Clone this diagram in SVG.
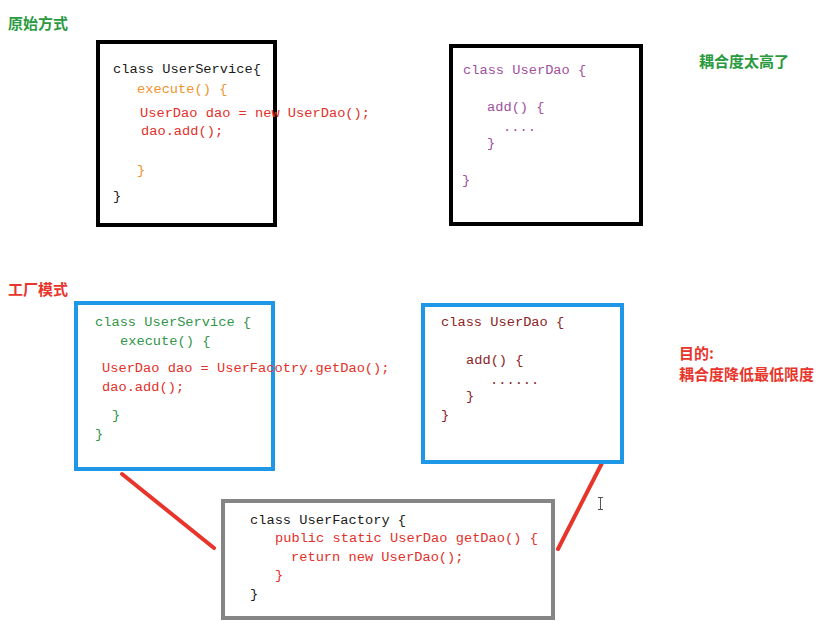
<svg xmlns="http://www.w3.org/2000/svg" width="828" height="640" viewBox="0 0 828 640">
<style>
.code{font-family:"Liberation Mono","DejaVu Sans Mono",monospace;font-size:13.7px;}
.cn{font-family:"Noto Sans CJK SC",sans-serif;font-size:15px;font-weight:bold;}
.blk{fill:#1a1a1a}.org{fill:#f0932e}.red{fill:#e3302a}.pur{fill:#a050a0}.grn{fill:#32954a}.drd{fill:#8c2424}
.hg{fill:#2a9a40}.hr{fill:#e8352b}
.boxk{fill:#fff;stroke:#000;stroke-width:4}
.boxb{fill:#fff;stroke:#1e98e6;stroke-width:4}
.boxg{fill:#fff;stroke:#858585;stroke-width:4}
.link{stroke:#e8352b;stroke-width:4;stroke-linecap:round}
</style>
<rect width="828" height="640" fill="#fff"/>
<text class="cn hg" x="8" y="29">原始方式</text>
<text class="cn hr" x="8" y="295">工厂模式</text>
<g id="old-userservice">
<rect class="boxk" x="98" y="42" width="177" height="183"/>
<text class="code blk" x="113" y="73">class UserService{</text>
<text class="code org" x="137" y="93">execute() {</text>
<text class="code red" x="140" y="117">UserDao dao = new UserDao();</text>
<text class="code red" x="141" y="135">dao.add();</text>
<text class="code org" x="137" y="174">}</text>
<text class="code blk" x="113" y="200">}</text>
</g>
<g id="old-userdao">
<rect class="boxk" x="451" y="46" width="190" height="178"/>
<text class="code pur" x="463" y="74">class UserDao {</text>
<text class="code pur" x="487" y="111">add() {</text>
<text class="code pur" x="503" y="131">....</text>
<text class="code pur" x="487" y="147">}</text>
<text class="code pur" x="462" y="184">}</text>
</g>
<text class="cn hg" x="699" y="67">耦合度太高了</text>
<g id="connectors">
<line class="link" x1="122" y1="474" x2="214" y2="548"/>
<line class="link" x1="602" y1="463" x2="558" y2="549"/>
</g>
<g id="new-userservice">
<rect class="boxb" x="76" y="303" width="197" height="166"/>
<text class="code grn" x="95" y="326">class UserService {</text>
<text class="code grn" x="120" y="345">execute() {</text>
<text class="code red" x="102" y="372">UserDao dao = UserFacotry.getDao();</text>
<text class="code red" x="102" y="391">dao.add();</text>
<text class="code grn" x="112" y="419">}</text>
<text class="code grn" x="95" y="438">}</text>
</g>
<g id="new-userdao">
<rect class="boxb" x="423" y="305" width="199" height="157"/>
<text class="code drd" x="441" y="326">class UserDao {</text>
<text class="code drd" x="466" y="364">add() {</text>
<text class="code drd" x="490" y="384">......</text>
<text class="code drd" x="466" y="400">}</text>
<text class="code drd" x="441" y="419">}</text>
</g>
<text class="cn hr" x="679" y="359">目的:</text>
<text class="cn hr" x="679" y="380">耦合度降低最低限度</text>
<g id="userfactory">
<rect class="boxg" x="223" y="501" width="330" height="117"/>
<text class="code blk" x="250" y="524">class UserFactory {</text>
<text class="code red" x="275" y="542">public static UserDao getDao() {</text>
<text class="code red" x="291" y="561">return new UserDao();</text>
<text class="code red" x="275" y="579">}</text>
<text class="code blk" x="250" y="598">}</text>
</g>
<g id="cursor" stroke="#555" stroke-width="1" fill="none">
<path d="M598 497.5h5M598 509.5h5M600.5 498v11"/>
</g>
</svg>
